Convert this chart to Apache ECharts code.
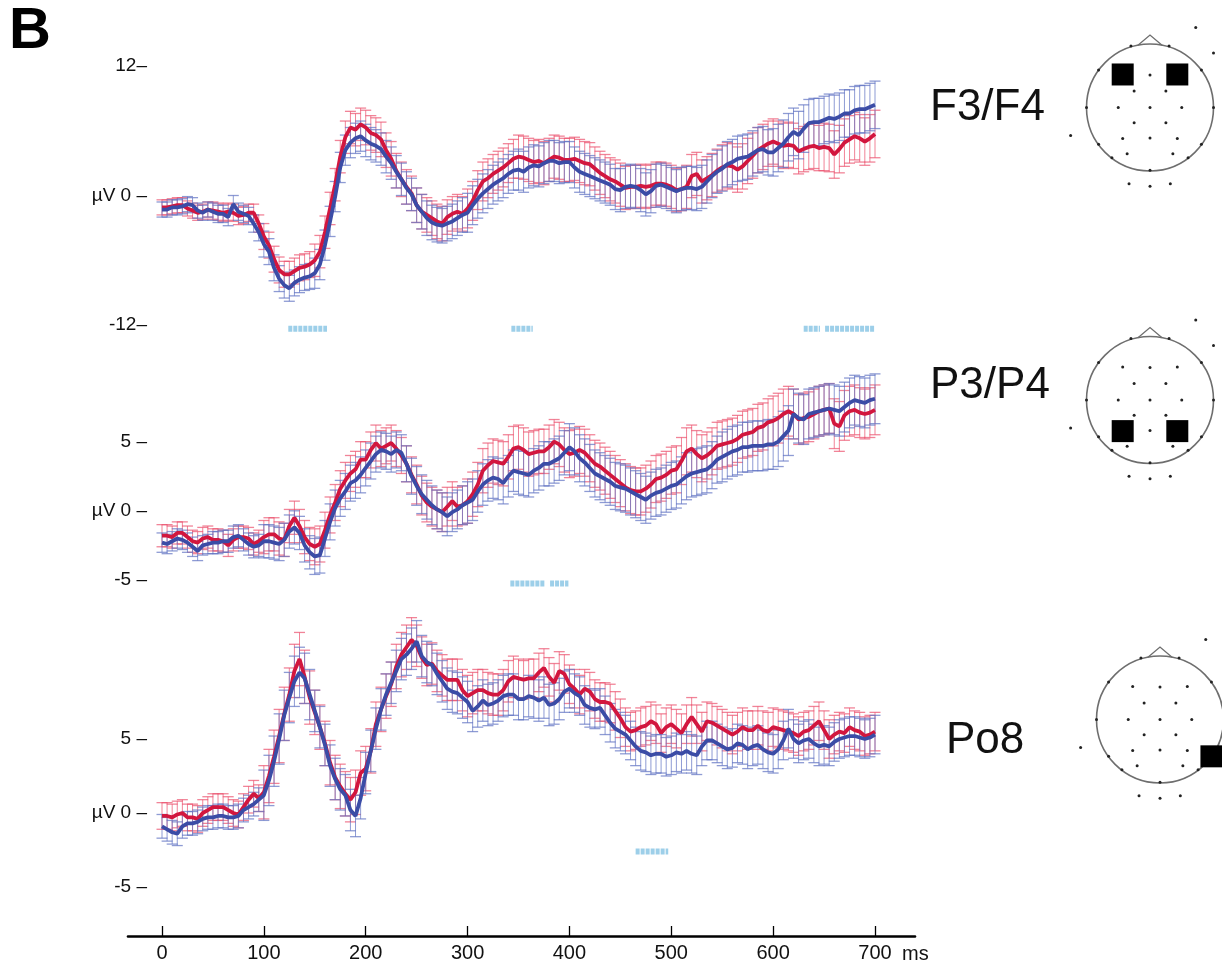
<!DOCTYPE html>
<html>
<head>
<meta charset="utf-8">
<title>ERP waveforms</title>
<script src="https://cdn.jsdelivr.net/npm/echarts@6/dist/echarts.min.js"></script>
<style>
  html, body { margin: 0; padding: 0; background: #ffffff; }
  #chart { width: 1222px; height: 963px; }
</style>
</head>
<body>
<div id="chart"></div>
<script>
// ---- sampling and tick labels ----
const sampleMs = 5;                 // one sample every 5 ms, from 0 to 700 ms
const semWindowMs = 50;             // SEM is given per 50 ms window
const timeTicks = [0, 100, 200, 300, 400, 500, 600, 700];
const f34Ticks = [-12, 0, 12];
const p34Ticks = [-5, 0, 5];
const po8Ticks = [-5, 0, 5];

// ---- F3/F4 (µV) ----
const f34Red = [
  -1.1,-1.1,-1.0,-0.9,-0.9,-1.2,-1.4,-1.6,-1.5,-1.3,
  -1.4,-1.5,-1.6,-1.5,-1.6,-1.9,-1.8,-1.6,-1.6,-2.6,
  -3.8,-4.6,-5.9,-6.9,-7.3,-7.3,-7.0,-6.7,-6.6,-6.4,
  -6.0,-5.2,-3.4,-1.2,1.0,3.6,5.4,6.3,6.1,6.6,
  6.3,5.8,5.6,5.2,4.2,3.4,2.3,1.5,0.8,0.2,
  -0.9,-1.5,-1.8,-2.1,-2.4,-2.6,-2.0,-1.7,-1.5,-1.7,
  -1.2,-0.5,0.5,1.3,1.6,2.0,2.3,2.6,3.0,3.4,
  3.6,3.5,3.3,3.1,3.2,3.0,3.3,3.6,3.5,3.3,
  3.3,3.4,3.2,3.0,2.9,2.5,2.1,1.8,1.5,1.3,
  1.0,0.7,0.8,0.8,0.9,0.8,0.9,1.1,1.1,1.0,
  0.8,0.5,0.6,0.8,1.8,2.0,1.3,1.6,1.9,2.3,
  2.6,2.8,2.7,2.4,2.7,3.2,3.7,4.2,4.5,4.8,
  5.0,4.8,4.6,4.7,4.6,4.1,4.3,4.5,4.6,4.4,
  4.5,4.4,3.8,4.3,4.9,5.2,5.5,5.3,5.0,5.3,
  5.7
];
const f34Blue = [
  -1.3,-1.3,-1.1,-1.1,-1.0,-0.8,-0.9,-1.4,-1.6,-1.3,
  -1.5,-1.7,-1.7,-2.0,-0.8,-1.5,-1.7,-1.9,-2.6,-3.4,
  -4.5,-5.2,-6.7,-7.7,-8.3,-8.6,-8.1,-7.8,-7.6,-7.5,
  -7.2,-6.4,-4.6,-2.4,-0.1,2.6,4.2,4.9,5.3,5.5,
  5.1,4.8,4.6,4.3,3.6,3.0,2.2,1.5,0.7,0.1,
  -0.9,-1.5,-2.1,-2.5,-2.7,-2.8,-2.6,-2.4,-2.1,-1.8,
  -1.6,-0.9,-0.3,0.2,0.6,1.0,1.3,1.6,2.0,2.3,
  2.4,2.2,2.6,2.8,2.7,3.0,3.2,3.2,3.0,3.1,
  3.1,2.6,2.2,2.0,1.8,1.6,1.4,1.2,1.0,0.6,
  0.5,0.8,0.9,0.8,0.5,0.1,0.4,0.9,1.0,0.8,
  0.6,0.4,0.6,0.7,0.7,0.6,0.8,1.3,1.8,2.2,
  2.5,2.9,3.1,3.4,3.5,3.6,3.9,4.2,4.3,4.0,
  4.0,4.4,4.8,5.4,5.9,5.6,6.2,6.7,6.8,6.8,
  7.0,7.2,7.1,7.3,7.6,7.6,7.9,8.0,8.0,8.2,
  8.4
];
const f34RedSem  = [0.7,0.8,1.2,1.5,1.6,1.6,1.8,2.0,2.0,2.0,2.0,2.1,2.1,2.2,2.2];
const f34BlueSem = [0.7,0.8,1.2,1.4,1.5,1.6,1.8,1.9,1.9,2.0,2.0,2.1,2.2,2.2,2.2];
const f34Sig = [[124, 162], [343, 364], [630, 646], [651, 700]];

// ---- P3/P4 (µV) ----
const p34Red = [
  -1.8,-1.8,-1.9,-1.6,-1.6,-1.9,-2.2,-2.3,-2.0,-1.9,
  -2.1,-2.1,-2.2,-2.5,-2.1,-1.9,-1.9,-2.0,-2.4,-2.2,
  -1.9,-1.7,-1.7,-2.0,-2.1,-1.1,-0.5,-1.1,-1.9,-2.4,
  -2.6,-2.4,-1.4,-0.3,0.6,1.6,2.2,2.7,3.0,3.7,
  3.7,4.4,4.9,4.5,4.7,4.9,4.5,4.0,3.4,2.6,
  1.9,1.1,0.6,0.3,0.1,-0.1,0.3,0.7,0.3,0.4,
  0.7,1.2,1.9,2.9,3.3,3.6,3.5,3.4,3.9,4.5,
  4.6,4.4,4.1,4.2,4.3,4.3,4.6,5.0,4.8,4.4,
  4.1,4.2,4.4,4.2,3.8,3.4,3.2,2.9,2.6,2.3,
  2.0,1.7,1.5,1.4,1.4,1.6,1.9,2.3,2.4,2.6,
  2.9,3.0,3.6,4.3,4.5,4.1,3.8,4.0,4.3,4.7,
  4.8,4.9,5.0,5.2,5.5,5.6,5.7,6.0,6.1,6.4,
  6.5,6.7,7.0,7.2,7.0,6.6,6.7,6.8,7.0,7.2,
  7.3,7.4,6.3,6.1,6.9,7.2,7.3,7.1,7.0,7.1,
  7.3
];
const p34Blue = [
  -2.3,-2.4,-2.2,-2.0,-2.1,-2.3,-2.6,-2.9,-2.5,-2.4,
  -2.3,-2.3,-2.2,-2.2,-1.9,-1.8,-2.1,-2.4,-2.6,-2.5,
  -2.2,-2.2,-2.3,-2.4,-2.1,-1.5,-1.2,-1.6,-2.5,-3.0,
  -3.3,-3.2,-2.0,-0.8,0.2,0.9,1.4,2.0,2.2,2.6,
  3.1,3.6,4.1,4.4,4.3,4.1,4.4,4.2,3.4,2.5,
  1.8,1.2,0.8,0.4,0.1,-0.1,-0.4,-0.1,0.1,0.4,
  0.6,0.8,1.4,1.9,2.2,2.4,2.3,2.0,2.5,2.9,
  2.8,2.7,2.6,2.9,3.1,3.4,3.4,3.6,3.8,4.2,
  4.6,4.3,3.8,3.5,3.1,2.7,2.5,2.3,2.1,1.8,
  1.7,1.6,1.4,1.2,1.0,0.8,1.1,1.3,1.4,1.6,
  1.8,1.9,2.2,2.5,2.7,2.8,2.9,3.0,3.3,3.7,
  3.9,4.1,4.3,4.4,4.6,4.6,4.7,4.7,4.7,4.8,
  4.8,5.0,5.4,5.8,7.0,6.7,6.6,7.0,7.1,7.2,
  7.3,7.4,7.3,7.2,7.5,7.8,8.0,7.9,7.8,8.0,
  8.1
];
const p34RedSem  = [0.8,0.8,1.2,1.3,1.3,1.4,1.6,1.6,1.7,1.7,1.7,1.7,1.8,1.8,1.8];
const p34BlueSem = [0.7,0.8,1.2,1.3,1.3,1.4,1.5,1.6,1.7,1.7,1.7,1.8,1.8,1.8,1.8];
const p34Sig = [[342, 376], [381, 399]];

// ---- Po8 (µV) ----
const po8Red = [
  -0.2,-0.2,-0.3,-0.1,0.0,-0.3,-0.3,-0.4,0.0,0.2,
  0.4,0.4,0.4,0.2,0.0,-0.1,0.4,0.9,1.3,1.0,
  1.4,2.5,3.8,5.2,6.7,8.0,9.6,10.4,9.2,7.8,
  6.8,5.8,4.7,3.4,2.4,1.8,1.3,0.9,1.4,2.7,
  3.0,4.2,6.0,7.0,7.9,8.7,9.9,10.7,11.2,11.7,
  11.3,10.5,10.0,10.1,9.6,9.3,9.0,9.0,9.0,8.3,
  7.9,8.1,8.3,8.3,8.1,8.0,8.0,8.3,8.9,9.2,
  9.1,9.0,9.1,9.1,9.5,9.8,9.2,8.8,9.6,9.4,
  8.7,8.4,8.0,8.4,8.2,7.7,7.5,7.5,7.4,6.9,
  6.4,5.8,5.5,5.6,5.8,5.9,6.2,6.0,5.4,5.8,
  6.0,5.7,5.4,6.0,6.5,6.0,5.5,6.2,6.1,5.9,
  5.7,5.5,5.3,5.5,5.8,5.6,5.6,5.9,5.6,5.5,
  5.8,5.7,5.6,5.5,5.4,5.2,5.5,5.6,5.9,6.2,
  5.6,5.0,5.3,5.5,5.4,5.8,5.6,5.5,5.2,5.3,
  5.5
];
const po8Blue = [
  -0.9,-1.1,-1.3,-1.4,-0.9,-0.7,-0.7,-0.6,-0.4,-0.3,
  -0.3,-0.2,-0.2,-0.3,-0.3,-0.2,0.2,0.4,0.6,0.9,
  1.2,2.2,3.5,5.0,6.6,7.8,8.9,9.5,9.1,8.0,
  6.9,5.8,4.6,3.2,2.3,1.6,1.2,0.2,-0.2,1.0,
  2.7,4.2,5.7,7.0,8.0,8.8,9.6,10.4,10.7,11.1,
  11.6,10.6,10.2,10.0,9.4,8.9,8.4,8.2,8.1,7.8,
  7.5,6.9,7.2,7.6,7.3,7.4,7.6,7.9,8.0,8.0,
  7.7,7.7,7.9,7.8,7.6,7.8,7.3,7.4,7.7,8.2,
  8.4,8.1,7.9,7.3,7.1,7.0,7.1,6.6,6.1,5.7,
  5.5,5.3,4.9,4.5,4.2,4.1,3.9,4.0,4.0,3.8,
  3.9,4.1,4.0,4.2,4.0,3.9,4.5,4.9,4.9,4.7,
  4.5,4.3,4.4,4.7,4.6,4.3,4.5,4.6,4.3,4.1,
  4.0,4.3,4.9,5.7,5.0,4.7,4.9,5.0,4.7,4.5,
  4.6,4.5,4.8,5.0,5.1,5.2,5.2,5.1,5.0,5.1,
  5.3
];
const po8RedSem  = [0.9,0.9,1.8,1.5,1.5,1.4,1.4,1.3,1.3,1.3,1.3,1.3,1.3,1.3,1.3];
const po8BlueSem = [0.8,0.8,1.7,1.4,1.4,1.4,1.4,1.4,1.3,1.3,1.3,1.3,1.3,1.3,1.3];
const po8Sig = [[465, 497]];

// ---- electrode montage (head-radius units, +y towards the back) ----
const montage = [
  [-0.30,-0.97],[0.30,-0.97],[-0.81,-0.59],[0.81,-0.59],[-1.0,0],[1.0,0],
  [-0.81,0.58],[0.81,0.58],[-0.60,0.79],[0.60,0.79],[0,0.99],
  [0,-0.51],[-0.43,-0.52],[0.43,-0.52],[-0.25,-0.26],[0.25,-0.26],
  [-0.50,0],[0,0],[0.50,0],[-0.25,0.24],[0.25,0.24],
  [-0.43,0.49],[0,0.48],[0.43,0.49],[-0.36,0.73],[0.36,0.73],
  [0.72,-1.26],[1.0,-0.86],[-1.25,0.44],[-0.33,1.2],[0,1.24],[0.32,1.2]
];

// ---- styling / layout ----
const FONT = "'Liberation Sans', Arial, Helvetica, sans-serif";
const RED = '#d2163e';
const BLUE = '#3b4ca6';
const RED_BAR = 'rgba(236, 84, 112, 0.72)';
const BLUE_BAR = 'rgba(98, 116, 196, 0.72)';
const SIG = '#9dcfe9';
const PX_PER_MS = 713 / 700;         // 0 ms at x=162, 700 ms at x=875
const AXIS_X = 148;                  // value labels end just left of the first sample
const PLOT_MIN_MS = (AXIS_X - 162) / PX_PER_MS;

const panels = [
  { name: 'F3/F4', red: f34Red, blue: f34Blue, redSem: f34RedSem, blueSem: f34BlueSem,
    sig: f34Sig, ticks: f34Ticks, tickGap: '', min: -13, max: 12, top: 66, height: 269.8, sigY: -12.35,
    head: { cx: 1150, cy: 107.5 }, marked: [[-0.43,-0.52],[0.43,-0.52]], labelX: 930, labelY: 108 },
  { name: 'P3/P4', red: p34Red, blue: p34Blue, redSem: p34RedSem, blueSem: p34BlueSem,
    sig: p34Sig, ticks: p34Ticks, tickGap: ' ', min: -6, max: 10, top: 372.5, height: 221.3, sigY: -5.25,
    head: { cx: 1150, cy: 400 }, marked: [[-0.43,0.49],[0.43,0.49]], labelX: 930, labelY: 386 },
  { name: 'Po8', red: po8Red, blue: po8Blue, redSem: po8RedSem, blueSem: po8BlueSem,
    sig: po8Sig, ticks: po8Ticks, tickGap: ' ', min: -5, max: 13, top: 620.6, height: 266.4, sigY: -2.6,
    head: { cx: 1160, cy: 719.5 }, marked: [[0.81,0.58]], labelX: 946, labelY: 741 }
];
const HEAD_R = 63.5;

function withSem(values, semWin) {
  return values.map((v, i) => {
    const t = i * sampleMs;
    return [t, v, semWin[Math.floor(t / semWindowMs)]];
  });
}
function points(values) {
  return values.map((v, i) => [i * sampleMs, v]);
}
function sigData(intervals, level) {
  const out = [];
  intervals.forEach((iv, k) => {
    if (k > 0) out.push(null);
    out.push([iv[0], level], [iv[1], level]);
  });
  return out;
}
function errorBars(color) {
  return function (params, api) {
    const t = api.value(0), m = api.value(1), e = api.value(2);
    const hi = api.coord([t, m + e]);
    const lo = api.coord([t, m - e]);
    const hw = 5.5;
    return {
      type: 'group',
      children: [
        { type: 'line', shape: { x1: hi[0], y1: hi[1], x2: lo[0], y2: lo[1] }, style: { stroke: color, lineWidth: 1 } },
        { type: 'line', shape: { x1: hi[0] - hw, y1: hi[1], x2: hi[0] + hw, y2: hi[1] }, style: { stroke: color, lineWidth: 1.3 } },
        { type: 'line', shape: { x1: lo[0] - hw, y1: lo[1], x2: lo[0] + hw, y2: lo[1] }, style: { stroke: color, lineWidth: 1.3 } }
      ]
    };
  };
}

const grid = [], xAxis = [], yAxis = [], series = [], graphics = [];

panels.forEach((p, k) => {
  grid.push({ left: AXIS_X, width: 875 - AXIS_X, top: p.top, height: p.height });
  xAxis.push({ gridIndex: k, type: 'value', min: PLOT_MIN_MS, max: 700, show: false });
  yAxis.push({
    gridIndex: k, type: 'value', min: p.min, max: p.max,
    axisLine: { show: false },
    splitLine: { show: false },
    axisTick: { show: false },
    // each value label carries its own dash tick, e.g. "12–", "µV 0 –"
    axisLabel: {
      customValues: p.ticks, margin: 1, color: '#111', fontFamily: FONT, fontSize: 19,
      formatter: v => (v === 0 ? 'µV 0 ' : String(v) + p.tickGap) + '\u2013'
    }
  });
  series.push(
    { type: 'custom', xAxisIndex: k, yAxisIndex: k, renderItem: errorBars(RED_BAR),
      encode: { x: 0, y: 1 }, data: withSem(p.red, p.redSem), z: 1, silent: true },
    { type: 'custom', xAxisIndex: k, yAxisIndex: k, renderItem: errorBars(BLUE_BAR),
      encode: { x: 0, y: 1 }, data: withSem(p.blue, p.blueSem), z: 1, silent: true },
    { type: 'line', xAxisIndex: k, yAxisIndex: k, data: sigData(p.sig, p.sigY), showSymbol: false,
      lineStyle: { color: SIG, width: 6, type: [4, 1] }, z: 2, silent: true },
    { type: 'line', xAxisIndex: k, yAxisIndex: k, data: points(p.red), showSymbol: false,
      lineStyle: { color: RED, width: 3.8 }, z: 3, silent: true },
    { type: 'line', xAxisIndex: k, yAxisIndex: k, data: points(p.blue), showSymbol: false,
      lineStyle: { color: BLUE, width: 3.8 }, z: 4, silent: true }
  );

  // electrode label
  graphics.push({ type: 'text', x: p.labelX, y: p.labelY,
    style: { text: p.name, font: '44px ' + FONT, fill: '#111', textAlign: 'left', textVerticalAlign: 'middle' } });

  // head outline with nose and electrode dots
  const cx = p.head.cx, cy = p.head.cy, r = HEAD_R;
  graphics.push({ type: 'circle', shape: { cx, cy, r },
    style: { fill: 'none', stroke: '#6e6e6e', lineWidth: 1.6 } });
  graphics.push({ type: 'polyline',
    shape: { points: [[cx - 0.19 * r, cy - 0.98 * r], [cx, cy - 1.14 * r], [cx + 0.19 * r, cy - 0.98 * r]] },
    style: { fill: 'none', stroke: '#6e6e6e', lineWidth: 1.3 } });
  montage.forEach(e => {
    graphics.push({ type: 'circle', shape: { cx: cx + e[0] * r, cy: cy + e[1] * r, r: 1.5 },
      style: { fill: '#222' } });
  });
  p.marked.forEach(e => {
    graphics.push({ type: 'rect', shape: { x: cx + e[0] * r - 11, y: cy + e[1] * r - 11, width: 22, height: 22 },
      style: { fill: '#000' } });
  });
});

// shared time axis at the bottom
grid.push({ left: 128, width: 787, top: 890, height: 47 });
xAxis.push({
  gridIndex: 3, type: 'value', min: (128 - 162) / PX_PER_MS, max: (915 - 162) / PX_PER_MS,
  axisLine: { show: true, lineStyle: { color: '#000', width: 2.6 } },
  axisTick: { show: true, inside: true, length: 10, customValues: timeTicks, lineStyle: { color: '#000', width: 1.3 } },
  axisLabel: { customValues: timeTicks, margin: 7, color: '#111', fontFamily: FONT, fontSize: 20 },
  splitLine: { show: false }
});
yAxis.push({ gridIndex: 3, type: 'value', min: 0, max: 1, show: false });

graphics.push({ type: 'text', x: 902, y: 954,
  style: { text: 'ms', font: '20px ' + FONT, fill: '#111', textAlign: 'left', textVerticalAlign: 'middle' } });
graphics.push({ type: 'text', x: 9, y: 32,
  style: { text: 'B', font: 'bold 58px ' + FONT, fill: '#000', textAlign: 'left', textVerticalAlign: 'middle' } });

const chart = echarts.init(document.getElementById('chart'), null, { renderer: 'canvas' });
chart.setOption({
  animation: false,
  backgroundColor: '#ffffff',
  grid, xAxis, yAxis, series,
  graphic: { elements: graphics }
});
</script>
</body>
</html>
